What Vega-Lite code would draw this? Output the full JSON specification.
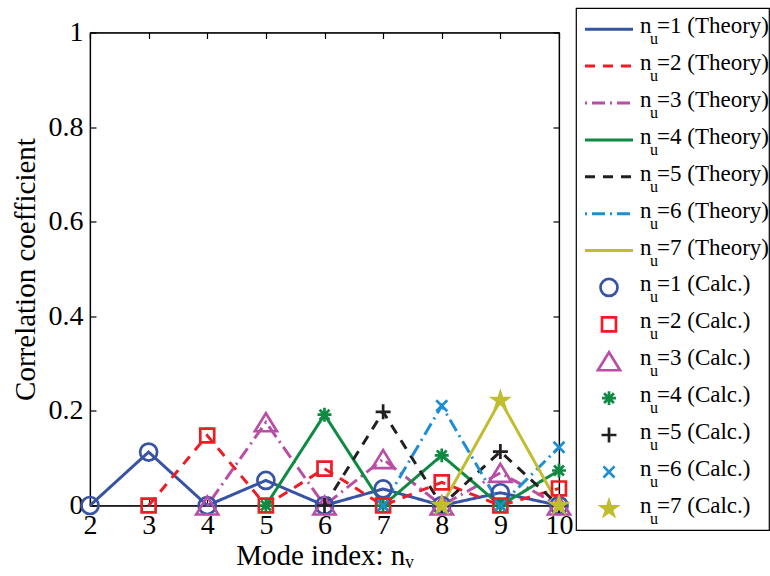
{
  "$schema": "https://vega.github.io/schema/vega-lite/v6.json",
  "background": "white",
  "padding": {"left": 10, "top": 7, "right": 0, "bottom": 0},
  "config": {
    "font": "Liberation Serif",
    "view": {"stroke": "#000", "strokeWidth": 1.2},
    "axis": {
      "labelFont": "Liberation Serif", "titleFont": "Liberation Serif",
      "labelFontSize": 28, "titleFontSize": 29, "titleFontWeight": "normal",
      "labelColor": "#000", "titleColor": "#000", "domainColor": "#000", "tickColor": "#000",
      "grid": false, "tickSize": -6, "domainWidth": 1.2, "tickWidth": 1.2,
      "labelOverlap": false, "labelFlush": false, "labelBound": false
    }
  },
  "datasets": {
    "curves": [
      {"nu": 1, "nv": 2, "rho": 0}, {"nu": 1, "nv": 3, "rho": 0.113}, {"nu": 1, "nv": 4, "rho": 0}, {"nu": 1, "nv": 5, "rho": 0.053}, {"nu": 1, "nv": 6, "rho": 0}, {"nu": 1, "nv": 7, "rho": 0.035}, {"nu": 1, "nv": 8, "rho": 0}, {"nu": 1, "nv": 9, "rho": 0.027}, {"nu": 1, "nv": 10, "rho": 0},
      {"nu": 2, "nv": 3, "rho": 0}, {"nu": 2, "nv": 4, "rho": 0.148}, {"nu": 2, "nv": 5, "rho": 0}, {"nu": 2, "nv": 6, "rho": 0.078}, {"nu": 2, "nv": 7, "rho": 0}, {"nu": 2, "nv": 8, "rho": 0.049}, {"nu": 2, "nv": 9, "rho": 0}, {"nu": 2, "nv": 10, "rho": 0.036},
      {"nu": 3, "nv": 4, "rho": 0}, {"nu": 3, "nv": 5, "rho": 0.176}, {"nu": 3, "nv": 6, "rho": 0}, {"nu": 3, "nv": 7, "rho": 0.098}, {"nu": 3, "nv": 8, "rho": 0}, {"nu": 3, "nv": 9, "rho": 0.069}, {"nu": 3, "nv": 10, "rho": 0},
      {"nu": 4, "nv": 5, "rho": 0}, {"nu": 4, "nv": 6, "rho": 0.192}, {"nu": 4, "nv": 7, "rho": 0}, {"nu": 4, "nv": 8, "rho": 0.106}, {"nu": 4, "nv": 9, "rho": 0}, {"nu": 4, "nv": 10, "rho": 0.074},
      {"nu": 5, "nv": 6, "rho": 0}, {"nu": 5, "nv": 7, "rho": 0.198}, {"nu": 5, "nv": 8, "rho": 0}, {"nu": 5, "nv": 9, "rho": 0.114}, {"nu": 5, "nv": 10, "rho": 0},
      {"nu": 6, "nv": 7, "rho": 0}, {"nu": 6, "nv": 8, "rho": 0.211}, {"nu": 6, "nv": 9, "rho": 0}, {"nu": 6, "nv": 10, "rho": 0.123},
      {"nu": 7, "nv": 8, "rho": 0}, {"nu": 7, "nv": 9, "rho": 0.222}, {"nu": 7, "nv": 10, "rho": 0}
    ],
    "legend": [
      {"entry": "T1", "nu": 1, "kind": "Theory", "rest": "=1 (Theory)"},
      {"entry": "T2", "nu": 2, "kind": "Theory", "rest": "=2 (Theory)"},
      {"entry": "T3", "nu": 3, "kind": "Theory", "rest": "=3 (Theory)"},
      {"entry": "T4", "nu": 4, "kind": "Theory", "rest": "=4 (Theory)"},
      {"entry": "T5", "nu": 5, "kind": "Theory", "rest": "=5 (Theory)"},
      {"entry": "T6", "nu": 6, "kind": "Theory", "rest": "=6 (Theory)"},
      {"entry": "T7", "nu": 7, "kind": "Theory", "rest": "=7 (Theory)"},
      {"entry": "C1", "nu": 1, "kind": "Calc.", "rest": "=1 (Calc.)"},
      {"entry": "C2", "nu": 2, "kind": "Calc.", "rest": "=2 (Calc.)"},
      {"entry": "C3", "nu": 3, "kind": "Calc.", "rest": "=3 (Calc.)"},
      {"entry": "C4", "nu": 4, "kind": "Calc.", "rest": "=4 (Calc.)"},
      {"entry": "C5", "nu": 5, "kind": "Calc.", "rest": "=5 (Calc.)"},
      {"entry": "C6", "nu": 6, "kind": "Calc.", "rest": "=6 (Calc.)"},
      {"entry": "C7", "nu": 7, "kind": "Calc.", "rest": "=7 (Calc.)"}
    ]
  },
  "spacing": 17,
  "bounds": "flush",
  "center": true,
  "resolve": {"scale": {"x": "independent", "y": "independent", "color": "independent", "shape": "independent", "strokeDash": "independent"}},
  "hconcat": [
    {
      "width": 469,
      "height": 473,
      "data": {"name": "curves"},
      "layer": [
        {
          "mark": {"type": "line", "strokeWidth": 3},
          "encoding": {
            "x": {"field": "nv", "type": "quantitative", "scale": {"domain": [2, 10], "nice": false, "zero": false},
                  "axis": {"values": [2, 3, 4, 5, 6, 7, 8, 9, 10], "title": "Mode index: nᵥ", "labelPadding": 12, "titlePadding": 2}},
            "y": {"field": "rho", "type": "quantitative", "scale": {"domain": [0, 1], "nice": false},
                  "axis": {"values": [0, 0.2, 0.4, 0.6, 0.8, 1], "format": "~g", "title": "Correlation coefficient", "labelPadding": 13, "titlePadding": 8}},
            "color": {"field": "nu", "type": "nominal", "legend": null,
                      "scale": {"domain": [1, 2, 3, 4, 5, 6, 7], "range": ["#3953A4", "#EE1C25", "#B84FA5", "#0E8A43", "#231F20", "#1F8ED1", "#C0BD30"]}},
            "strokeDash": {"field": "nu", "type": "nominal", "legend": null,
                           "scale": {"domain": [1, 2, 3, 4, 5, 6, 7], "range": [[1, 0], [10, 8], [2, 5, 13, 5], [1, 0], [10, 8], [2, 5, 13, 5], [1, 0]]}}
          }
        },
        {
          "transform": [{"filter": "datum.nu < 7"}],
          "mark": {"type": "point", "filled": false, "strokeWidth": 2.7, "size": 289, "opacity": 1},
          "encoding": {
            "x": {"field": "nv", "type": "quantitative", "axis": null},
            "y": {"field": "rho", "type": "quantitative", "axis": null},
            "color": {"field": "nu", "type": "nominal", "legend": null},
            "shape": {"field": "nu", "type": "nominal", "legend": null,
                      "scale": {"domain": [1, 2, 3, 4, 5, 6, 7], "range": [
                        "circle",
                        "M-0.82,-0.82L0.82,-0.82L0.82,0.82L-0.82,0.82Z",
                        "M0,-1.06L1.3,1.06L-1.3,1.06Z",
                        "M-0.82,0L0.82,0M0,-0.82L0,0.82M-0.58,-0.58L0.58,0.58M-0.58,0.58L0.58,-0.58",
                        "M-0.88,0L0.88,0M0,-0.88L0,0.88",
                        "M-0.65,-0.65L0.65,0.65M-0.65,0.65L0.65,-0.65",
                        "M0,-1.43L0.321,-0.442L1.36,-0.442L0.519,0.169L0.841,1.157L0,0.546L-0.841,1.157L-0.519,0.169L-1.36,-0.442L-0.321,-0.442Z"
                      ]}}
          }
        },
        {
          "transform": [{"filter": "datum.nu == 7"}],
          "mark": {"type": "point", "filled": true, "size": 289, "opacity": 1},
          "encoding": {
            "x": {"field": "nv", "type": "quantitative", "axis": null},
            "y": {"field": "rho", "type": "quantitative", "axis": null},
            "color": {"field": "nu", "type": "nominal", "legend": null},
            "shape": {"field": "nu", "type": "nominal", "legend": null}
          }
        },
        {
          "mark": {"type": "point", "opacity": 0},
          "encoding": {
            "x": {"field": "nv", "type": "quantitative", "axis": {"orient": "top", "values": [2, 3, 4, 5, 6, 7, 8, 9, 10], "labels": false, "title": null}},
            "y": {"field": "rho", "type": "quantitative", "axis": {"orient": "right", "values": [0, 0.2, 0.4, 0.6, 0.8, 1], "labels": false, "title": null}}
          }
        }
      ],
      "resolve": {"axis": {"x": "independent", "y": "independent"}}
    },
    {
      "width": 193,
      "height": 522,
      "data": {"name": "legend"},
      "encoding": {
        "y": {"field": "entry", "type": "ordinal", "axis": null,
              "scale": {"type": "point", "padding": 0.575, "domain": ["T1", "T2", "T3", "T4", "T5", "T6", "T7", "C1", "C2", "C3", "C4", "C5", "C6", "C7"]}}
      },
      "layer": [
        {
          "transform": [{"filter": "datum.kind == 'Theory'"}],
          "mark": {"type": "rule", "strokeWidth": 3},
          "encoding": {
            "x": {"datum": 9, "type": "quantitative", "axis": null, "scale": {"domain": [0, 193], "nice": false, "zero": false}},
            "x2": {"datum": 57},
            "color": {"field": "nu", "type": "nominal", "legend": null,
                      "scale": {"domain": [1, 2, 3, 4, 5, 6, 7], "range": ["#3953A4", "#EE1C25", "#B84FA5", "#0E8A43", "#231F20", "#1F8ED1", "#C0BD30"]}},
            "strokeDash": {"field": "nu", "type": "nominal", "legend": null,
                           "scale": {"domain": [1, 2, 3, 4, 5, 6, 7], "range": [[1, 0], [10, 8], [2, 5, 13, 5], [1, 0], [10, 8], [2, 5, 13, 5], [1, 0]]}}
          }
        },
        {
          "transform": [{"filter": "datum.kind == 'Calc.' && datum.nu < 7"}],
          "mark": {"type": "point", "filled": false, "strokeWidth": 2.7, "size": 289, "opacity": 1},
          "encoding": {
            "x": {"datum": 33, "type": "quantitative"},
            "color": {"field": "nu", "type": "nominal", "legend": null},
            "shape": {"field": "nu", "type": "nominal", "legend": null,
                      "scale": {"domain": [1, 2, 3, 4, 5, 6, 7], "range": [
                        "circle",
                        "M-0.82,-0.82L0.82,-0.82L0.82,0.82L-0.82,0.82Z",
                        "M0,-1.06L1.3,1.06L-1.3,1.06Z",
                        "M-0.82,0L0.82,0M0,-0.82L0,0.82M-0.58,-0.58L0.58,0.58M-0.58,0.58L0.58,-0.58",
                        "M-0.88,0L0.88,0M0,-0.88L0,0.88",
                        "M-0.65,-0.65L0.65,0.65M-0.65,0.65L0.65,-0.65",
                        "M0,-1.43L0.321,-0.442L1.36,-0.442L0.519,0.169L0.841,1.157L0,0.546L-0.841,1.157L-0.519,0.169L-1.36,-0.442L-0.321,-0.442Z"
                      ]}}
          }
        },
        {
          "transform": [{"filter": "datum.kind == 'Calc.' && datum.nu == 7"}],
          "mark": {"type": "point", "filled": true, "size": 289, "opacity": 1},
          "encoding": {
            "x": {"datum": 33, "type": "quantitative"},
            "color": {"field": "nu", "type": "nominal", "legend": null},
            "shape": {"field": "nu", "type": "nominal", "legend": null}
          }
        },
        {
          "mark": {"type": "text", "font": "Liberation Serif", "fontSize": 23, "align": "left", "baseline": "alphabetic", "dy": 4, "color": "#000"},
          "encoding": {"x": {"datum": 64, "type": "quantitative"}, "text": {"value": "n"}}
        },
        {
          "mark": {"type": "text", "font": "Liberation Serif", "fontSize": 16, "align": "left", "baseline": "alphabetic", "dy": 15, "color": "#000"},
          "encoding": {"x": {"datum": 74, "type": "quantitative"}, "text": {"value": "u"}}
        },
        {
          "mark": {"type": "text", "font": "Liberation Serif", "fontSize": 23, "align": "left", "baseline": "alphabetic", "dy": 4, "color": "#000"},
          "encoding": {"x": {"datum": 81, "type": "quantitative"}, "text": {"field": "rest"}}
        }
      ]
    }
  ]
}
